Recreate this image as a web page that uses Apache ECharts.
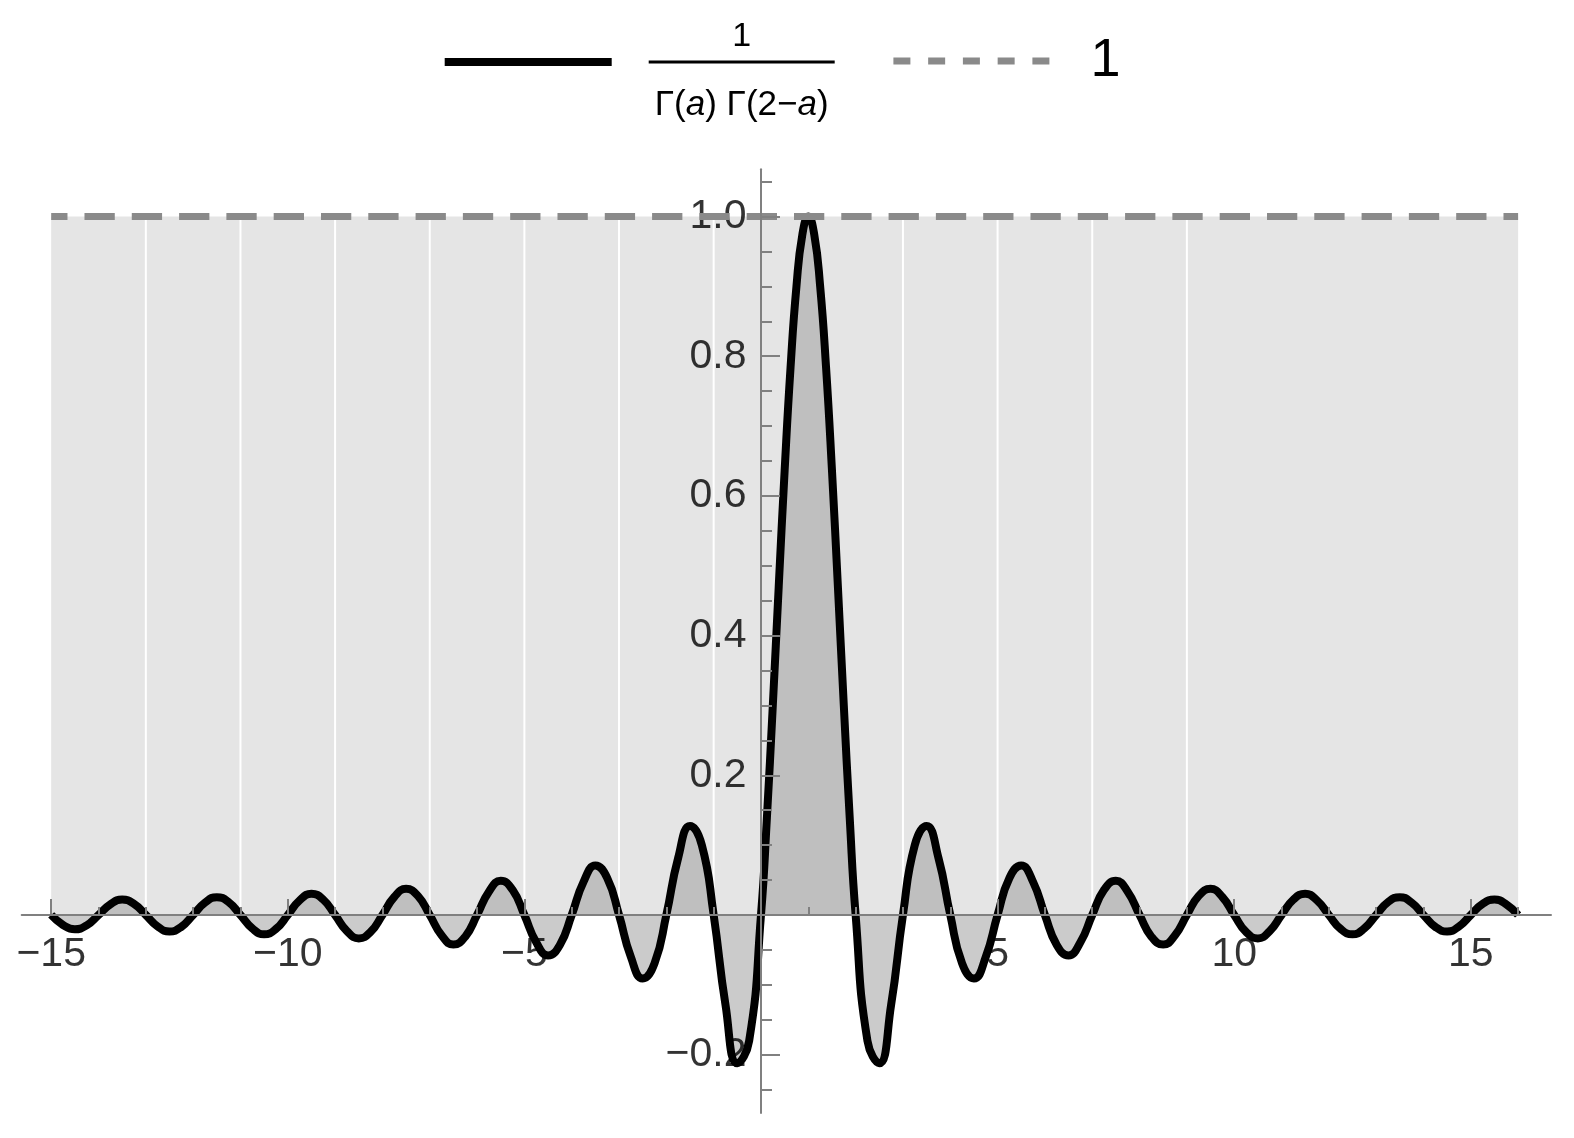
<!DOCTYPE html>
<html>
<head>
<meta charset="utf-8">
<script src="https://cdn.jsdelivr.net/npm/echarts@6/dist/echarts.min.js"></script>
<style>
html,body{margin:0;padding:0;background:#fff;}
#chart{width:1574px;height:1138px;}
</style>
</head>
<body>
<div id="chart"></div>
<script>
// ---- data ----
const aValues = [
  -15, -14.75, -14.5, -14.25,
  -14, -13.75, -13.5, -13.25,
  -13, -12.75, -12.5, -12.25,
  -12, -11.75, -11.5, -11.25,
  -11, -10.75, -10.5, -10.25,
  -10, -9.75, -9.5, -9.25,
  -9, -8.75, -8.5, -8.25,
  -8, -7.75, -7.5, -7.25,
  -7, -6.75, -6.5, -6.25,
  -6, -5.75, -5.5, -5.25,
  -5, -4.75, -4.5, -4.25,
  -4, -3.75, -3.5, -3.25,
  -3, -2.75, -2.5, -2.25,
  -2, -1.75, -1.5, -1.25,
  -1, -0.75, -0.5, -0.25,
  0, 0.125, 0.25, 0.375, 0.5, 0.625, 0.75, 0.875,
  1, 1.125, 1.25, 1.375, 1.5, 1.625, 1.75, 1.875,
  2, 2.25, 2.5, 2.75,
  3, 3.25, 3.5, 3.75,
  4, 4.25, 4.5, 4.75,
  5, 5.25, 5.5, 5.75,
  6, 6.25, 6.5, 6.75,
  7, 7.25, 7.5, 7.75,
  8, 8.25, 8.5, 8.75,
  9, 9.25, 9.5, 9.75,
  10, 10.25, 10.5, 10.75,
  11, 11.25, 11.5, 11.75,
  12, 12.25, 12.5, 12.75,
  13, 13.25, 13.5, 13.75,
  14, 14.25, 14.5, 14.75,
  15, 15.25, 15.5, 15.75,
  16
];
const gammaValues = [
  0, -0.0143, -0.0205, -0.0148,
  0, 0.0153, 0.0220, 0.0158,
  0, -0.0164, -0.0236, -0.0170,
  0, 0.0177, 0.0255, 0.0184,
  0, -0.0192, -0.0277, -0.0200,
  0, 0.0209, 0.0303, 0.0220,
  0, -0.0231, -0.0335, -0.0243,
  0, 0.0257, 0.0374, 0.0273,
  0, -0.0290, -0.0424, -0.0310,
  0, 0.0333, 0.0490, 0.0360,
  0, -0.0391, -0.0579, -0.0429,
  0, 0.0474, 0.0707, 0.0530,
  0, -0.0600, -0.0909, -0.0693,
  0, 0.0818, 0.1273, 0.1000,
  0, -0.1286, -0.2122, -0.1801,
  0, 0.1392, 0.3001, 0.4705, 0.6366, 0.7842, 0.9003, 0.9745,
  1, 0.9745, 0.9003, 0.7842, 0.6366, 0.4705, 0.3001, 0.1392,
  0, -0.1801, -0.2122, -0.1286,
  0, 0.1000, 0.1273, 0.0818,
  0, -0.0693, -0.0909, -0.0600,
  0, 0.0530, 0.0707, 0.0474,
  0, -0.0429, -0.0579, -0.0391,
  0, 0.0360, 0.0490, 0.0333,
  0, -0.0310, -0.0424, -0.0290,
  0, 0.0273, 0.0374, 0.0257,
  0, -0.0243, -0.0335, -0.0231,
  0, 0.0220, 0.0303, 0.0209,
  0, -0.0200, -0.0277, -0.0192,
  0, 0.0184, 0.0255, 0.0177,
  0, -0.0170, -0.0236, -0.0164,
  0, 0.0158, 0.0220, 0.0153,
  0
];
const oneX = [-15, 16];
const oneY = [1, 1];
const meshLineX = [-13, -11, -9, -7, -5, -3, -1, 3, 5, 7, 9];
const xLabelValues = [-15, -10, -5, 5, 10, 15];
const xMinorValues = [-15, -14, -13, -12, -11, -10, -9, -8, -7, -6, -5, -4, -3, -2, -1, 0,
                      1, 2, 3, 4, 5, 6, 7, 8, 9, 10, 11, 12, 13, 14, 15, 16];
const yLabelValues = [-0.2, 0.2, 0.4, 0.6, 0.8, 1.0];
const yMajorValues = [-0.2, 0, 0.2, 0.4, 0.6, 0.8, 1.0];
const yMinorValues = [-0.25, -0.2, -0.15, -0.1, -0.05, 0, 0.05, 0.1, 0.15, 0.2, 0.25, 0.3, 0.35,
                      0.4, 0.45, 0.5, 0.55, 0.6, 0.65, 0.7, 0.75, 0.8, 0.85, 0.9, 0.95, 1.0, 1.05];
const curveName = '1/(Γ(a) Γ(2−a))';
const oneName = '1';

// ---- build chart ----
const FONT = '"Liberation Sans", Arial, Helvetica, sans-serif';
const AXIS_GRAY = '#808080';
const X_MIN = -15.623, X_MAX = 16.695;
const Y_MIN = -0.2835, Y_MAX = 1.0676;

const curveData = aValues.map((a, i) => [a, gammaValues[i]]);
const oneData = oneX.map((x, i) => [x, oneY[i]]);
const meshData = meshLineX.map(x => [x, oneY[0]]);
const xLabelData = xLabelValues.map(v => [v, 0]);
const yLabelData = yLabelValues.map(v => [0, v]);

const minusFmt = (v, digits) => {
  const s = digits == null ? String(Math.abs(v)) : Math.abs(v).toFixed(digits);
  return (v < 0 ? '−' : '') + s;
};

const tickStyle = {color: AXIS_GRAY, width: 2};

const chart = echarts.init(document.getElementById('chart'), null, {renderer: 'canvas'});
chart.setOption({
  animation: false,
  backgroundColor: '#ffffff',
  grid: {left: 21.7, right: 23, top: 169.3, bottom: 25, containLabel: false, outerBoundsMode: 'none'},
  legend: [
    {
      selectedMode: false,
      orient: 'horizontal',
      left: 444.7,
      top: -8,
      padding: 0,
      itemWidth: 167,
      itemHeight: 8,
      icon: 'rect',
      data: [curveName],
      formatter: function () {
        return '{sp| }\n{num|1}\n{bar|}\n{den|Γ(}{it|a}{den|) Γ(2−}{it|a}{den|)}';
      },
      textStyle: {
        color: '#000',
        fontFamily: FONT,
        padding: [0, 0, 0, 32],
        rich: {
          sp: {fontSize: 10, lineHeight: 36, align: 'center'},
          num: {fontSize: 34, lineHeight: 44, align: 'center', fontFamily: FONT, color: '#000'},
          bar: {width: 186, height: 3, lineHeight: 6, backgroundColor: '#000', align: 'center'},
          den: {fontSize: 35, lineHeight: 80, align: 'center', fontFamily: FONT, color: '#000'},
          it: {fontSize: 35, lineHeight: 80, align: 'center', fontStyle: 'italic', fontFamily: FONT, color: '#000'}
        }
      }
    },
    {
      selectedMode: false,
      orient: 'horizontal',
      left: 893.4,
      top: 31,
      padding: 0,
      itemWidth: 156,
      itemHeight: 7,
      icon: 'path://M0 0h17v7h-17z M34.75 0h17v7h-17z M69.5 0h17v7h-17z M104.25 0h17v7h-17z M139 0h17v7h-17z',
      data: [oneName],
      textStyle: {color: '#000', fontFamily: FONT, fontSize: 54, lineHeight: 60, padding: [0, 0, 0, 36]}
    }
  ],
  xAxis: [
    {
      type: 'value', min: X_MIN, max: X_MAX, z: 7, position: 'bottom',
      axisLine: {show: true, onZero: true, onZeroAxisIndex: 0, lineStyle: {color: AXIS_GRAY, width: 2}},
      axisTick: {show: true, inside: true, length: 16, customValues: xLabelValues, lineStyle: tickStyle},
      axisLabel: {show: false},
      splitLine: {show: false}
    },
    {
      type: 'value', min: X_MIN, max: X_MAX, z: 7, position: 'bottom',
      axisLine: {show: false, onZero: true, onZeroAxisIndex: 0},
      axisTick: {show: true, inside: true, length: 8, customValues: xMinorValues, lineStyle: tickStyle},
      axisLabel: {show: false},
      splitLine: {show: false}
    }
  ],
  yAxis: [
    {
      type: 'value', min: Y_MIN, max: Y_MAX, z: 7, position: 'left',
      axisLine: {show: true, onZero: true, onZeroAxisIndex: 0, lineStyle: {color: AXIS_GRAY, width: 2}},
      axisTick: {show: true, inside: true, length: 19, customValues: yMajorValues, lineStyle: tickStyle},
      axisLabel: {show: false},
      splitLine: {show: false}
    },
    {
      type: 'value', min: Y_MIN, max: Y_MAX, z: 7, position: 'left',
      axisLine: {show: false, onZero: true, onZeroAxisIndex: 0},
      axisTick: {show: true, inside: true, length: 11, customValues: yMinorValues, lineStyle: tickStyle},
      axisLabel: {show: false},
      splitLine: {show: false}
    }
  ],
  series: [
    {
      id: 'background', name: 'background', type: 'line', xAxisIndex: 0, yAxisIndex: 0, data: oneData,
      symbol: 'none', silent: true, z: 1,
      lineStyle: {width: 0},
      areaStyle: {color: '#e5e5e5', opacity: 1}
    },
    {
      id: 'mesh', name: 'mesh', type: 'bar', xAxisIndex: 0, yAxisIndex: 0, data: meshData,
      barWidth: 2, silent: true, z: 2,
      itemStyle: {color: '#ffffff'}
    },
    {
      id: 'fill', name: 'fill', type: 'line', xAxisIndex: 0, yAxisIndex: 0, data: curveData,
      smooth: true, symbol: 'none', silent: true, z: 3,
      lineStyle: {width: 0},
      areaStyle: {color: '#c4c4c4', opacity: 1}
    },
    {
      id: 'xlabels', name: 'xlabels', type: 'scatter', xAxisIndex: 0, yAxisIndex: 0, data: xLabelData,
      symbolSize: 1, silent: true, z: 4,
      itemStyle: {color: 'rgba(0,0,0,0)'},
      label: {show: true, position: 'bottom', distance: 19, fontSize: 41, color: '#000', fontFamily: FONT,
              formatter: p => minusFmt(p.value[0])}
    },
    {
      id: 'ylabels', name: 'ylabels', type: 'scatter', xAxisIndex: 0, yAxisIndex: 0, data: yLabelData,
      symbolSize: 1, silent: true, z: 4,
      itemStyle: {color: 'rgba(0,0,0,0)'},
      label: {show: true, position: 'left', distance: 14, fontSize: 41, color: '#000', fontFamily: FONT,
              formatter: p => minusFmt(p.value[1], 1)}
    },
    {
      id: 'curve', name: curveName, type: 'line', xAxisIndex: 0, yAxisIndex: 0, data: curveData,
      smooth: true, symbol: 'none', silent: true, z: 5,
      itemStyle: {color: '#000'},
      lineStyle: {color: '#000', width: 8}
    },
    {
      id: 'one', name: oneName, type: 'line', xAxisIndex: 0, yAxisIndex: 0, data: oneData,
      symbol: 'none', silent: true, z: 6,
      itemStyle: {color: '#8a8a8a'},
      lineStyle: {color: '#8a8a8a', width: 7, type: [30.3, 17], dashOffset: 14, cap: 'butt'}
    }
  ]
});

// two-tone filling: darker above the axis (over the grey band), lighter below it
const zeroY = chart.convertToPixel({yAxisIndex: 0}, 0);
const H = chart.getHeight();
const k = zeroY / H;
chart.setOption({
  series: [{
    id: 'fill',
    areaStyle: {
      opacity: 1,
      color: new echarts.graphic.LinearGradient(0, 0, 0, H, [
        {offset: 0, color: '#bfbfbf'},
        {offset: k, color: '#bfbfbf'},
        {offset: k, color: '#cbcbcb'},
        {offset: 1, color: '#cbcbcb'}
      ], true)
    }
  }]
});
</script>
</body>
</html>
